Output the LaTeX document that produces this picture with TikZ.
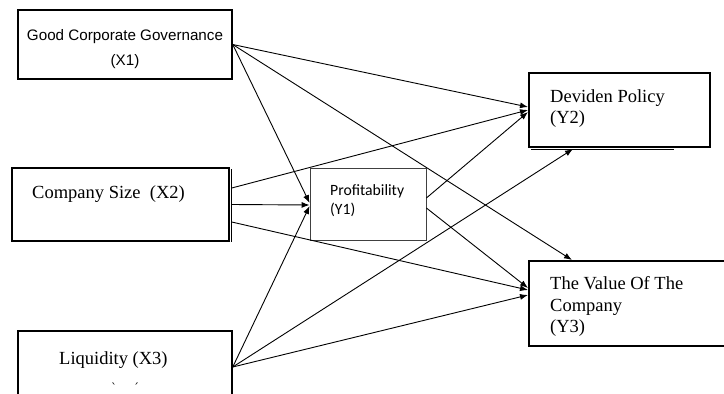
\documentclass[tikz,border=0pt]{standalone}
\usepackage{fontspec}
\setmainfont{Liberation Serif}
\newfontfamily\arialf{Liberation Sans}
\newfontfamily\calibf{Carlito}
\newfontfamily\djvf{DejaVu Serif}
\usetikzlibrary{arrows.meta,calc}
\begin{document}
\begin{tikzpicture}[x=1pt,y=-1pt,
  xbox/.style={draw, line width=1.5pt, inner sep=0pt},
  ybox/.style={draw, line width=2pt, inner sep=0pt},
  pbox/.style={draw=black!75, line width=0.8pt, inner sep=0pt},
  arr/.style={line width=0.9pt, -{Latex[length=8pt,width=6pt]}},
  sertxt/.style={anchor=base west, inner sep=0pt, font=\fontsize{18.5}{21.5}\selectfont},
  sanstxt/.style={anchor=base, inner sep=0pt, font=\arialf\fontsize{15.2}{25}\selectfont},
  caltxt/.style={anchor=base west, inner sep=0pt, font=\calibf\fontsize{15.7}{19}\selectfont}]
\useasboundingbox (0,0) rectangle (724,394);
\begin{scope}
\clip (0,0) rectangle (724,394);
% boxes
\node[xbox, minimum width=214pt, minimum height=69pt] (x1) at (125,44.5) {};
\node[xbox, minimum width=217pt, minimum height=73pt] (x2) at (120.5,204.5) {};
\node[xbox, minimum width=214pt, minimum height=89pt] (x3) at (125,375.5) {};
\node[pbox, minimum width=116pt, minimum height=72pt] (y1) at (368,204) {};
\node[ybox, minimum width=181pt, minimum height=74pt] (y2) at (619.5,110) {};
\node[ybox, minimum width=211pt, minimum height=85pt] (y3) at (634.5,303.5) {};
% shadow lines
\draw[line width=1pt] ($(x2.north east)+(2,2)$) -- ($(x2.south east)+(2,0)$);
\draw[line width=1.2pt] ($(y2.south west)+(3,1.4)$) -- ($(y2.south west)+(146,1.4)$);
% texts
\node[sanstxt] (t1a) at (125,40) {Good Corporate Governance};
\node[sanstxt] (t1b) at (125,65) {(X1)};
\node[sertxt] (t2) at (32,198) {Company Size\ \ (X2)};
\node[sertxt] (t3) at (59,364) {Liquidity (X3)};
\node[anchor=base, inner sep=0pt, font=\djvf\fontsize{12}{12}\selectfont] (t3m1) at (114,392) {ˋ};
\node[anchor=base, inner sep=0pt, font=\djvf\fontsize{12}{12}\selectfont] (t3m2) at (136,392) {ˊ};
\node[caltxt] (t4a) at (330,195) {Profitability};
\node[caltxt] (t4b) at (330,214) {(Y1)};
\node[sertxt] (t5a) at (550,102) {Deviden Policy};
\node[sertxt] (t5b) at (550,123) {(Y2)};
\node[sertxt] (t6a) at (550,289) {The Value Of The};
\node[sertxt] (t6b) at (550,311) {Company};
\node[sertxt] (t6c) at (550,332) {(Y3)};
% connectors
\draw[arr] (x1.east) -- ($(y2.west)+(0,-3)$);
\draw[arr] (x1.east) -- ($(y3.north west)+(44,0)$);
\draw[arr] (x1.east) -- ($(y1.west)+(0,-1)$);
\draw[arr] ($(x2.east)+(2,-16.5)$) -- (y2.west);
\draw[arr] ($(x2.east)+(2,0)$) -- ($(y1.west)+(0,1)$);
\draw[arr] ($(x2.east)+(2,17.5)$) -- ($(y3.west)+(0,-13.5)$);
\draw[arr] ($(x3.east)+(0,-8.5)$) -- ($(y1.west)+(0,2)$);
\draw[arr] ($(x3.east)+(0,-8.5)$) -- ($(y2.south west)+(45,1)$);
\draw[arr] ($(x3.east)+(0,-8.5)$) -- ($(y3.west)+(0,-8.5)$);
\draw[arr] ($(y1.east)+(0,-6)$) -- ($(y2.west)+(0,2)$);
\draw[arr] ($(y1.east)+(0,4)$) -- ($(y3.west)+(0,-15.5)$);
\end{scope}
\end{tikzpicture}
\end{document}
